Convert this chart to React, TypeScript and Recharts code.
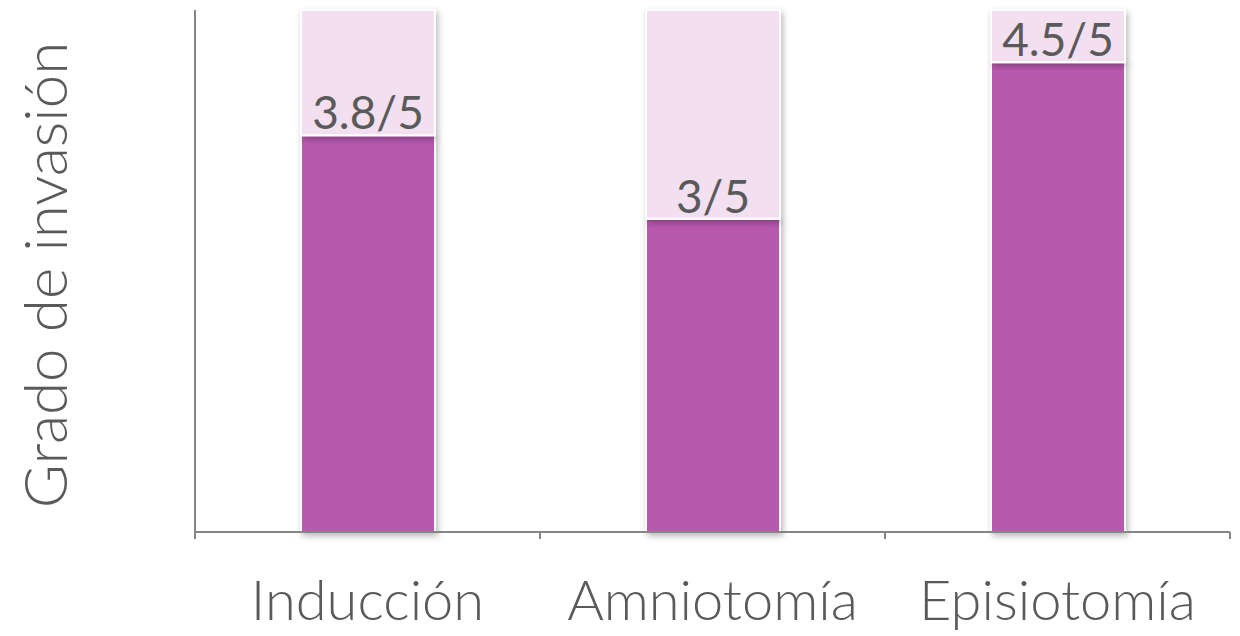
import React from 'react';
import { BarChart, Bar, XAxis, YAxis, LabelList } from 'recharts';

const categories = ['Inducción', 'Amniotomía', 'Episiotomía'];
const scores = [3.8, 3, 4.5];
const maxScore = 5;

const data = categories.map((name, i) => ({
  name,
  score: scores[i],
  rest: maxScore - scores[i],
}));

const W = 1240;
const H = 636;
const LEFT = 195;
const RIGHT = 10;
const BAND = (W - LEFT - RIGHT) / categories.length;
const FONT = '"Lato", "Open Sans", sans-serif';
const TEXT = '#5a5a5a';
const AXIS = '#858585';

const ShadowRect = (props: any) => {
  const { x, y, width, height, fill } = props;
  if (!height) return null;
  return (
    <rect
      x={x}
      y={y}
      width={width}
      height={height}
      fill={fill}
      stroke="#ffffff"
      strokeWidth={2}
      filter="url(#barShadow)"
    />
  );
};

const CategoryTick = (props: any) => {
  const { x, y, payload, index } = props;
  const last = index === categories.length - 1;
  return (
    <g>
      <line x1={x - BAND / 2} y1={y - 8} x2={x - BAND / 2} y2={y - 1} stroke={AXIS} strokeWidth={2} />
      {last && (
        <line x1={x + BAND / 2} y1={y - 8} x2={x + BAND / 2} y2={y - 1} stroke={AXIS} strokeWidth={2} />
      )}
      <text
        x={x}
        y={y + 80}
        textAnchor="middle"
        fill={TEXT}
        fontFamily={FONT}
        fontWeight={300}
        fontSize={56}
      >
        {payload.value}
      </text>
    </g>
  );
};

export default function App() {
  return (
    <div style={{ width: W, height: H }}>
      <style>{`body{margin:0}`}</style>
      <BarChart
        width={W}
        height={H}
        data={data}
        margin={{ top: 10, right: RIGHT, left: 0, bottom: 0 }}
        barSize={134}
      >
        <defs>
          <filter id="barShadow" x="-10%" y="-10%" width="125%" height="125%">
            <feDropShadow dx={2} dy={3} stdDeviation={3} floodColor="#000" floodOpacity={0.28} />
          </filter>
        </defs>
        <XAxis
          dataKey="name"
          height={104}
          axisLine={{ stroke: AXIS, strokeWidth: 2 }}
          tickLine={false}
          tick={<CategoryTick />}
          interval={0}
        />
        <YAxis
          width={LEFT}
          domain={[0, maxScore]}
          ticks={[]}
          tick={false}
          tickLine={false}
          axisLine={{ stroke: AXIS, strokeWidth: 2 }}
          label={{
            value: 'Grado de invasión',
            angle: -90,
            position: 'insideLeft',
            dx: 41,
            dy: 4,
            style: { fontFamily: FONT, fontWeight: 300, fontSize: 60, fill: TEXT, textAnchor: 'middle' },
          }}
        />
        <Bar dataKey="score" stackId="a" fill="#b858ae" shape={<ShadowRect />} isAnimationActive={false}>
          <LabelList
            dataKey="score"
            position="top"
            offset={6}
            formatter={(v: any) => `${v}/${maxScore}`}
            style={{ fontFamily: FONT, fontSize: 46, fill: TEXT, fontWeight: 400 }}
          />
        </Bar>
        <Bar dataKey="rest" stackId="a" fill="#f2e0f0" shape={<ShadowRect />} isAnimationActive={false} />
      </BarChart>
    </div>
  );
}
